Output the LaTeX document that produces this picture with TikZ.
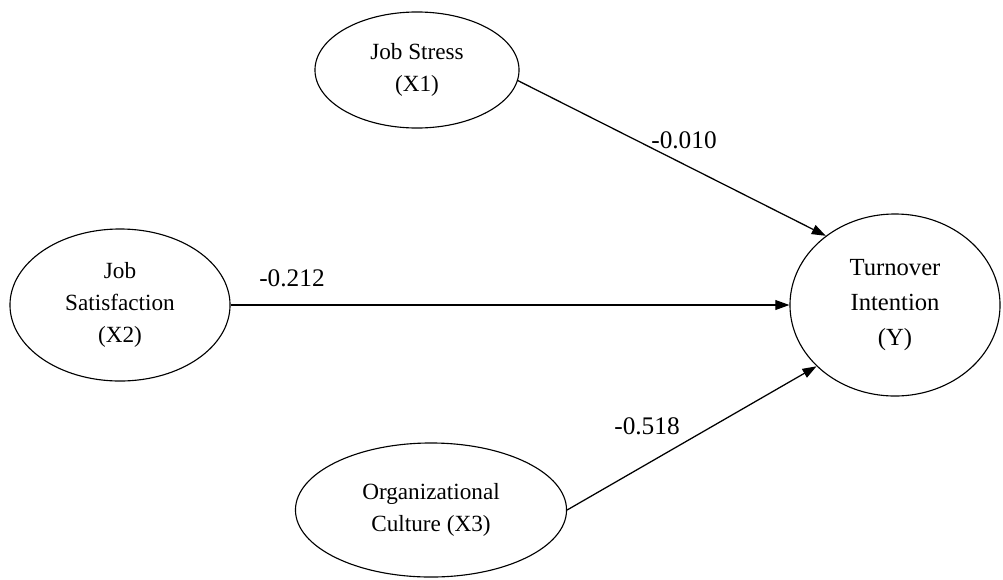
\documentclass[tikz,border=0pt]{standalone}
\usepackage{fontspec}
\setmainfont{Liberation Serif}
\usepackage{tikz}
\usetikzlibrary{arrows.meta,shapes.geometric}

\begin{document}
\begin{tikzpicture}[x=0.025cm, y=-0.025cm,
    >={Triangle[length=10pt,width=7pt]},
    % Define the style for each construct
    construct/.style={ellipse, draw=black, line width=0.8pt, inner sep=0pt, align=center,
        font=\fontsize{16.5}{22.8}\selectfont},
    % Define the style for the paths and their coefficients
    path coef/.style={font=\fontsize{18}{20}\selectfont, inner sep=1pt},
    connection/.style={->, line width=0.9pt}
]

% Fix the size of the picture
\useasboundingbox (0,0) rectangle (1003,579);

% Independent constructs
\node[construct, minimum width=5.1cm, minimum height=2.9cm] (X1) at (417,70) {Job Stress\\(X1)};
\node[construct, minimum width=5.5cm, minimum height=3.8cm] (X2) at (120,305) {Job\\Satisfaction\\(X2)};
\node[construct, minimum width=6.775cm, minimum height=3.35cm] (X3) at (431,510) {Organizational\\Culture (X3)};

% Dependent construct
\node[construct, minimum width=5.25cm, minimum height=4.55cm,
    font=\fontsize{17.5}{25}\selectfont] (Y) at (895,305) {Turnover\\Intention\\(Y)};

% Connect the constructs
\draw [connection] (X1.-6) -- (Y.135);
\draw [connection] (X2.east) -- (Y.west);
\draw [connection] (X3.east) -- (Y.218);

% Path coefficients
\node[path coef] (c1) at (684,140) {-0.010};
\node[path coef] (c2) at (292,278) {-0.212};
\node[path coef] (c3) at (647,426) {-0.518};

\end{tikzpicture}
\end{document}
